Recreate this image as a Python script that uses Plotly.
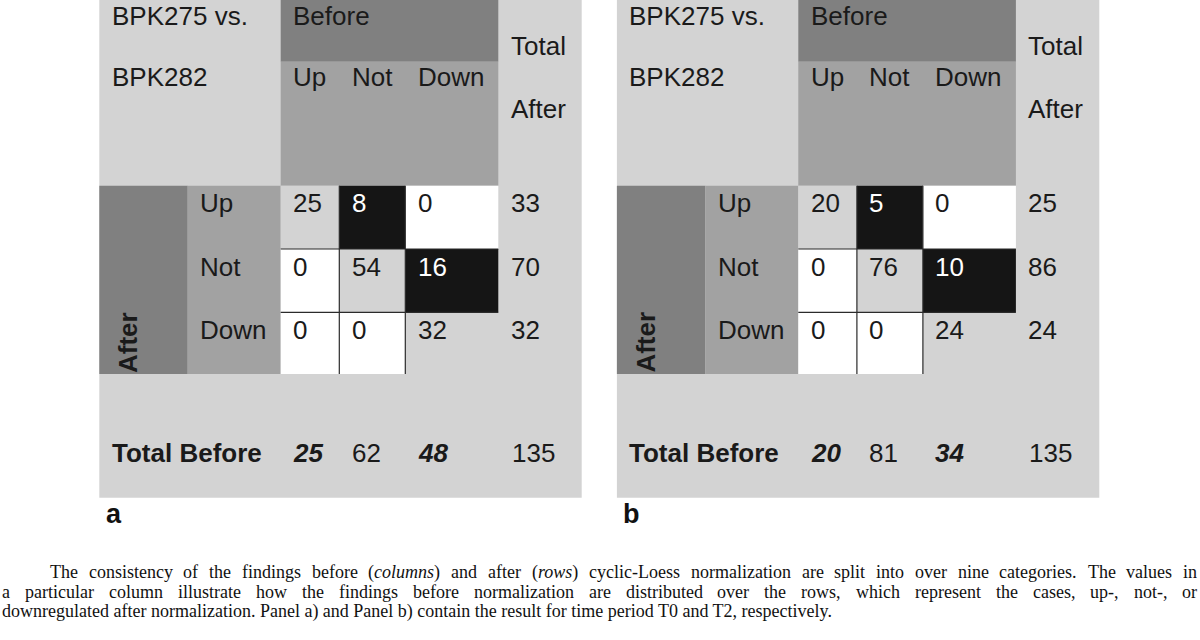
import plotly.graph_objects as go
import re

# ---------------- data ----------------
row_labels = ["Up", "Not", "Down"]
col_labels = ["Up", "Not", "Down"]
counts_a = [[25, 8, 0], [0, 54, 16], [0, 0, 32]]
counts_b = [[20, 5, 0], [0, 76, 10], [0, 0, 24]]
row_totals_a = [33, 70, 32]
row_totals_b = [25, 86, 24]
col_totals_a = [25, 62, 48]
col_totals_b = [20, 81, 34]
grand_total_a = 135
grand_total_b = 135
col_total_emphasis = [True, False, True]
panel_letters = ["a", "b"]
corner_lines = ["BPK275 vs.", "BPK282"]
header_before = "Before"
header_total = ["Total", "After"]
side_after = "After"
footer_label = "Total Before"
caption_lines = [
    "The consistency of the findings before (<i>columns</i>) and after (<i>rows</i>) cyclic-Loess normalization are split into over nine categories. The values in",
    "a particular column illustrate how the findings before normalization are distributed over the rows, which represent the cases, up-, not-, or",
    "downregulated after normalization. Panel a) and Panel b) contain the result for time period T0 and T2, respectively.",
]

panels = [
    dict(counts=counts_a, rows=row_totals_a, cols=col_totals_a, total=grand_total_a, letter=panel_letters[0]),
    dict(counts=counts_b, rows=row_totals_b, cols=col_totals_b, total=grand_total_b, letter=panel_letters[1]),
]

# ---------------- layout / style ----------------
W, H = 1200, 640
PANEL_DX = [0.0, 517.6]
XE = [99.3, 187.7, 280.7, 339.3, 405.3, 498.3, 581.7]
YE = [0.0, 61.7, 185.7, 249.0, 312.3, 374.0, 497.7]
PAD = 10.3
LIGHT = "#d3d3d3"
MID = "#a2a2a2"
DARK = "#808080"
BLACK = "#151515"
WHITE = "#ffffff"
TXT = "#1a1a1a"
SANS = "Liberation Sans, Arial, sans-serif"
SERIF = "Liberation Serif, Times New Roman, serif"
FS = 26
CAP_FS = 18

fig = go.Figure()
shapes = []
annotations = []


def rect(x0, x1, y0, y1, color):
    shapes.append(dict(type="rect", xref="x", yref="y", x0=x0, x1=x1, y0=y0, y1=y1,
                       fillcolor=color, line=dict(width=0), layer="below"))


def line(x0, x1, y0, y1):
    shapes.append(dict(type="line", xref="x", yref="y", x0=x0, x1=x1, y0=y0, y1=y1,
                       line=dict(color="#2b2b2b", width=1.2), layer="above"))


def text(x, y, s, size=FS, color=TXT, family=SANS, **kw):
    d = dict(xref="x", yref="y", x=x, y=y, text=s, showarrow=False,
             xanchor="left", yanchor="middle",
             font=dict(family=family, size=size, color=color))
    d.update(kw)
    annotations.append(d)


for p, dx in zip(panels, PANEL_DX):
    X = [v + dx for v in XE]
    # backgrounds
    rect(X[0], X[6], YE[0], YE[6], LIGHT)
    rect(X[2], X[5], YE[0], YE[1], DARK)
    rect(X[2], X[5], YE[1], YE[2], MID)
    rect(X[0], X[1], YE[2], YE[5], DARK)
    rect(X[1], X[2], YE[2], YE[5], MID)
    # cells
    for i in range(3):
        for j in range(3):
            v = p["counts"][i][j]
            if i == j:
                c = LIGHT
            elif v == 0:
                c = WHITE
            else:
                c = BLACK
            rect(X[2 + j], X[3 + j], YE[2 + i], YE[3 + i], c)
    # internal grid lines
    for k in (3, 4):
        line(X[k], X[k], YE[2], YE[5])
        line(X[2], X[5], YE[k], YE[k])

    # header texts
    text(X[0] + PAD, 16, corner_lines[0])
    text(X[0] + PAD, 77, corner_lines[1])
    text(X[2] + PAD, 16, header_before)
    for j, lab in enumerate(col_labels):
        text(X[2 + j] + PAD, 77, lab)
    text(X[5] + PAD, 46, header_total[0])
    text(X[5] + PAD, 109, header_total[1])

    # rows
    for i, lab in enumerate(row_labels):
        yc = YE[2 + i] + 17.5
        text(X[1] + PAD, yc, lab)
        for j in range(3):
            v = p["counts"][i][j]
            col = WHITE if (i != j and v != 0) else TXT
            text(X[2 + j] + PAD, yc, str(v), color=col)
        text(X[5] + PAD, yc, str(p["rows"][i]))

    # rotated side label
    annotations.append(dict(xref="x", yref="y", x=(X[0] + X[1]) / 2 - 16, y=YE[5] + 1,
                            text="<b>" + side_after + "</b>", showarrow=False, textangle=-90,
                            xanchor="center", yanchor="bottom",
                            font=dict(family=SANS, size=FS, color=TXT)))

    # totals row
    yt = 452.5
    text(X[0] + PAD, yt, "<b>" + footer_label + "</b>")
    for j, v in enumerate(p["cols"]):
        s = "<b><i>%d</i></b>" % v if col_total_emphasis[j] else str(v)
        text(X[2 + j] + PAD, yt, s)
    text(X[5] + PAD + 1, yt, str(p["total"]))

    # panel letter
    text(X[0] + 4.3, 514, "<b>" + p["letter"] + "</b>", size=27, color="#111111")

# ---------------- caption (justified like the source) ----------------
ROMAN = {" ": 250, "(": 333, ")": 333, ",": 250, "-": 333, ".": 250,
         "A": 722, "B": 667, "C": 667, "D": 722, "E": 611, "F": 556, "G": 722, "H": 722,
         "I": 333, "J": 389, "K": 722, "L": 611, "M": 889, "N": 722, "O": 722, "P": 556,
         "Q": 722, "R": 667, "S": 556, "T": 611, "U": 722, "V": 722, "W": 944, "X": 722,
         "Y": 722, "Z": 611,
         "a": 444, "b": 500, "c": 444, "d": 500, "e": 444, "f": 333, "g": 500, "h": 500,
         "i": 278, "j": 278, "k": 500, "l": 278, "m": 778, "n": 500, "o": 500, "p": 500,
         "q": 500, "r": 333, "s": 389, "t": 278, "u": 500, "v": 500, "w": 722, "x": 500,
         "y": 500, "z": 444}
ITAL = dict(ROMAN)
ITAL.update({"a": 500, "f": 278, "k": 444, "m": 722, "r": 389, "v": 444, "w": 667,
             "x": 444, "y": 444, "z": 389})
for d_ in "0123456789":
    ROMAN[d_] = 500
    ITAL[d_] = 500


def word_width(w, size):
    ital = False
    total = 0
    for tok in re.split(r"(<i>|</i>)", w):
        if tok == "<i>":
            ital = True
        elif tok == "</i>":
            ital = False
        else:
            tbl = ITAL if ital else ROMAN
            total += sum(tbl.get(ch, 500) for ch in tok)
    return total * size / 1000.0


cap_y = [572, 592, 611]
cap_x0 = [48, 0, 0]
cap_x1 = [1195, 1195, None]
for s, y, x0, x1 in zip(caption_lines, cap_y, cap_x0, cap_x1):
    if x1 is None:
        text(x0, y, s, size=CAP_FS, color="#111111", family=SERIF)
        continue
    words = s.split(" ")
    widths = [word_width(w, CAP_FS) for w in words]
    gap = (x1 - x0 - sum(widths)) / (len(words) - 1)
    x = x0
    for w, wd in zip(words, widths):
        text(x, y, w, size=CAP_FS, color="#111111", family=SERIF)
        x += wd + gap

fig.add_trace(go.Scatter(x=[0, W], y=[0, H], mode="markers", marker=dict(opacity=0),
                         hoverinfo="skip", showlegend=False))
fig.update_layout(
    width=W, height=H, margin=dict(l=0, r=0, t=0, b=0),
    paper_bgcolor="white", plot_bgcolor="white",
    shapes=shapes, annotations=annotations, showlegend=False,
    xaxis=dict(range=[0, W], visible=False, fixedrange=True),
    yaxis=dict(range=[H, 0], visible=False, fixedrange=True),
)
fig.write_html("out.html", config=dict(displayModeBar=False),
               post_script="document.body.style.margin='0px';document.body.style.padding='0px';")
